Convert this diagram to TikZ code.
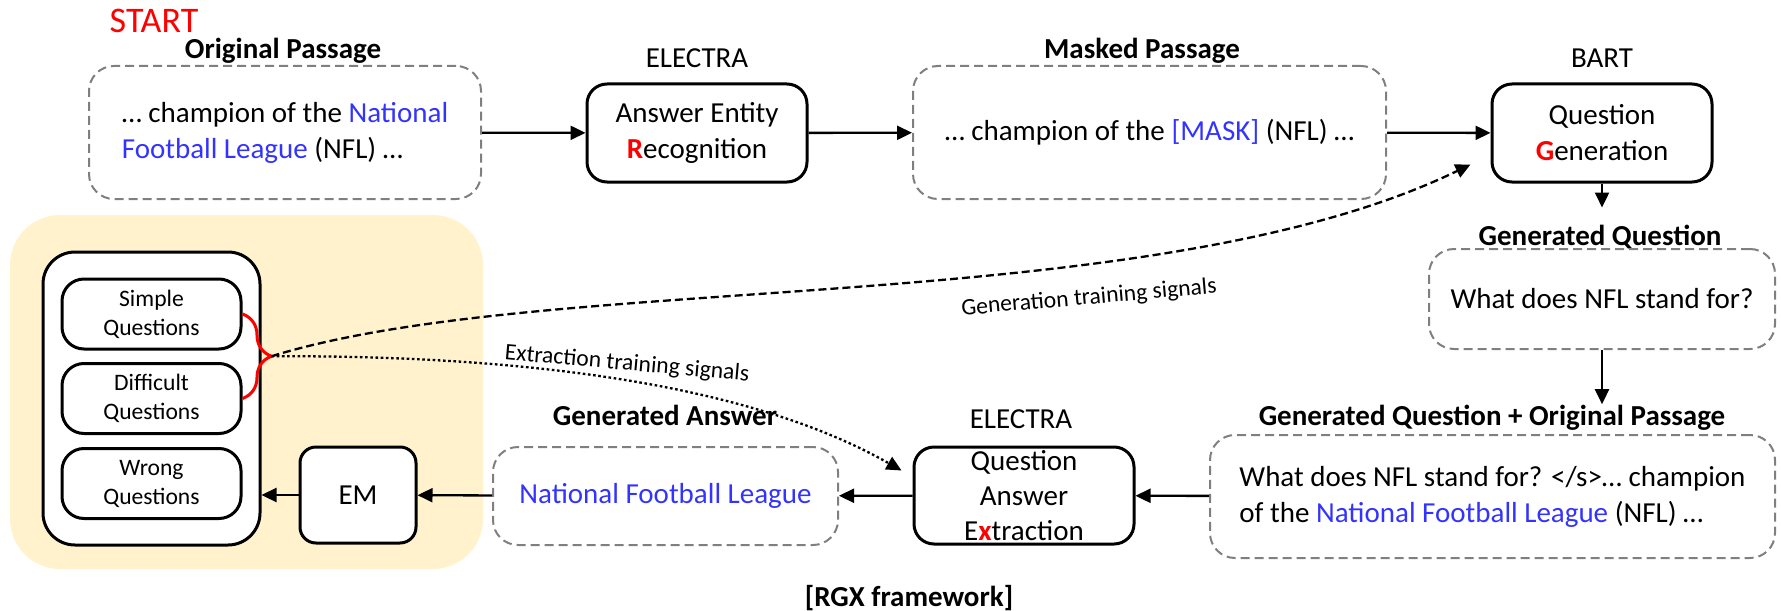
\documentclass[tikz,border=0pt]{standalone}
\usepackage{fontspec}
\setmainfont{Carlito}
\usepackage{xcolor}
\usetikzlibrary{positioning, calc, arrows.meta, decorations.pathreplacing}

\definecolor{entblue}{HTML}{3333FF}
\definecolor{boxgray}{HTML}{7F7F7F}
\definecolor{poolyellow}{HTML}{FFF2CC}

\newcommand{\ent}[1]{\textcolor{entblue}{#1}}
\newcommand{\keyl}[1]{\textcolor{red}{\bfseries #1}}

\tikzset{
  txtbox/.style={draw=boxgray, line width=1pt, dash pattern=on 4.5pt off 2.5pt,
    rounded corners=12.5pt, inner sep=0pt, align=center,
    font=\fontsize{14.5}{18}\selectfont},
  modbox/.style={draw, line width=1.5pt, rounded corners=10pt, inner sep=0pt,
    align=center, minimum width=110pt, minimum height=49pt,
    font=\fontsize{14.5}{18}\selectfont},
  qbox/.style={draw, line width=1.5pt, rounded corners=11pt, fill=white,
    inner sep=0pt, align=center, minimum width=89.5pt, minimum height=35pt,
    font=\fontsize{11.8}{14.5}\selectfont},
  boxtitle/.style={anchor=base, inner sep=0pt, font=\fontsize{14.5}{18}\selectfont\bfseries},
  modname/.style={anchor=base, inner sep=0pt, font=\fontsize{14.5}{18}\selectfont},
  sigtext/.style={inner sep=0pt, font=\fontsize{11.8}{14}\selectfont},
  flow/.style={-{Triangle[length=7.5pt,width=7pt]}, line width=1.15pt},
}

\begin{document}
\begin{tikzpicture}[x=0.5pt, y=-0.5pt]
    \useasboundingbox (0,0) rectangle (1781,610);

    % --- QUESTION POOL (yellow panel) ---
    \fill[poolyellow, rounded corners=25pt] (10,215) rectangle (483,569);
    \node[draw, line width=1.5pt, rounded corners=16pt, fill=white,
          minimum width=108.5pt, minimum height=146.5pt] (pool) at (151.5,398.5) {};
    \node[qbox] (simple) at (151.5,314) {Simple\\Questions};
    \node[qbox] (difficult) at (151.5,398.5) {Difficult\\Questions};
    \node[qbox] (wrong) at (151.5,483.5) {Wrong\\Questions};
    \node[draw, line width=1.5pt, rounded corners=8pt, fill=white, minimum width=58pt,
          minimum height=48pt, font=\fontsize{14.5}{18}\selectfont] (em) at (358,495) {EM};

    % --- TOP ROW: passage -> AER -> masked passage -> QG ---
    \node[red, anchor=base, inner sep=0pt, font=\fontsize{18}{20}\selectfont] (start) at (154,33) {START};
    \node[txtbox, align=left, minimum width=196pt, minimum height=66.5pt] (orig) at (285,132.5)
        {… champion of the \ent{National}\\\ent{Football League} (NFL) …};
    \node[boxtitle] (origtitle) at (283,59) {Original Passage};

    \node[modname] (electra1) at (697,68) {ELECTRA};
    \node[modbox] (aer) at (697,133) {Answer Entity\\\keyl{R}ecognition};

    \node[txtbox, minimum width=236.5pt, minimum height=66.5pt] (masked) at (1149.5,132.5)
        {… champion of the \ent{[MASK]} (NFL) …};
    \node[boxtitle] (maskedtitle) at (1142,59) {Masked Passage};

    \node[modname] (bart) at (1602,68) {BART};
    \node[modbox] (qg) at (1602,133) {Question\\\keyl{G}eneration};

    % --- RIGHT COLUMN: generated question ---
    \node[boxtitle] (gqtitle) at (1600,245) {Generated Question};
    \node[txtbox, minimum width=173pt, minimum height=50pt] (gq) at (1602,299) {What does NFL stand for?};
    \node[boxtitle] (gqoptitle) at (1492,425) {Generated Question + Original Passage};
    \node[txtbox, align=left, minimum width=282.5pt, minimum height=61.5pt] (gqop) at (1492.5,496.5)
        {What does NFL stand for? </s>… champion\\of the \ent{National Football League} (NFL) …};

    % --- BOTTOM ROW: QAE -> generated answer -> EM ---
    \node[modname] (electra2) at (1021,428) {ELECTRA};
    \node[modbox, minimum height=48.5pt, font=\fontsize{14.5}{17.5}\selectfont] (qae) at (1024,495.5)
        {Question\\Answer\\E\keyl{x}traction};
    \node[boxtitle] (gatitle) at (665,425) {Generated Answer};
    \node[txtbox, minimum width=172.5pt, minimum height=49pt] (ga) at (665.5,496) {\ent{National Football League}};

    \node[boxtitle] (rgx) at (909,606) {[RGX framework]};

    % --- MAIN FLOW ARROWS ---
    \coordinate (gqin) at ($(qg.south)+(0,24)$);
    \draw[flow] (orig) -- (aer);
    \draw[flow] (aer) -- (masked);
    \draw[flow] (masked) -- (qg);
    \draw[flow] (qg.south) -- (gqin);
    \draw[flow] (gq.south) -- (gq.south |- gqoptitle.north);
    \draw[flow] (gqop) -- (qae);
    \draw[flow] (qae) -- (ga);
    \draw[flow] (ga) -- (em);
    \draw[flow] (em) -- (em -| pool.east);

    % --- TRAINING SIGNALS (brace + feedback curves) ---
    \draw[red, line width=1.5pt, decorate, decoration={brace, amplitude=14.5pt}]
        (simple.east) -- (difficult.east);
    \coordinate (picktip) at ($(simple.east)!0.5!(difficult.east)+(29,0)$);
    \coordinate (genend) at ($(qg.south west)+(-20,-19)$);
    \coordinate (extend) at ($(qae.north west)+(-11,25)$);

    \draw[line width=1.15pt, dash pattern=on 4pt off 2pt, -{Triangle[length=7.5pt,width=7pt]}]
        (picktip) .. controls (550,270) and (1150,320) .. (genend);
    \draw[line width=1.15pt, dash pattern=on 1.3pt off 1.3pt, -{Triangle[length=7.5pt,width=7pt]}]
        (picktip) .. controls (550,355) and (760,390) .. (extend);

    \node[sigtext, rotate=5] (gensig) at (1089,298) {Generation training signals};
    \node[sigtext, rotate=-5] (extsig) at (627,364) {Extraction training signals};

\end{tikzpicture}
\end{document}
